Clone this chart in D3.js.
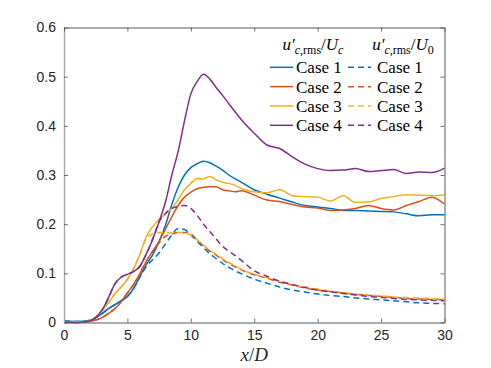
<!DOCTYPE html>
<html>
<head>
<meta charset="utf-8">
<script src="https://cdn.jsdelivr.net/npm/d3@7"></script>
<style>
  body { margin: 0; background: #fff; }
  svg { display: block; }
  .serif { font-family: "Liberation Serif", "Times New Roman", "DejaVu Serif", serif; }
</style>
</head>
<body>
<div id="chart"></div>
<script>
"use strict";

// x/D grid shared by all series
var xGrid = [0, 1, 2, 2.5, 3, 3.5, 4, 4.5, 5, 5.5, 6, 6.5, 7, 7.5, 8, 8.5, 9, 9.5, 10, 10.5,
  11, 11.5, 12, 12.5, 13, 13.5, 14, 15, 16, 17, 18, 19, 20, 21, 22, 23, 24, 25, 26, 27, 28, 29, 30];

// u'_{c,rms}/U_c (solid)
var case1Uc = [0.003, 0.002, 0.004, 0.010, 0.018, 0.028, 0.036, 0.044, 0.053, 0.070, 0.095, 0.118, 0.138, 0.165, 0.198, 0.240, 0.275, 0.300, 0.315, 0.323,
  0.328, 0.325, 0.318, 0.310, 0.300, 0.292, 0.285, 0.270, 0.261, 0.253, 0.245, 0.238, 0.235, 0.232, 0.228, 0.228, 0.227, 0.226, 0.225, 0.221, 0.217, 0.219, 0.219];
var case2Uc = [0.001, 0.001, 0.002, 0.005, 0.010, 0.018, 0.028, 0.042, 0.060, 0.078, 0.100, 0.125, 0.145, 0.165, 0.190, 0.215, 0.238, 0.255, 0.265, 0.272,
  0.275, 0.276, 0.276, 0.270, 0.268, 0.266, 0.268, 0.259, 0.249, 0.246, 0.240, 0.235, 0.233, 0.228, 0.229, 0.232, 0.238, 0.232, 0.229, 0.238, 0.246, 0.255, 0.241];
var case3Uc = [0.001, 0.001, 0.003, 0.010, 0.025, 0.040, 0.058, 0.072, 0.088, 0.110, 0.140, 0.175, 0.195, 0.210, 0.220, 0.232, 0.250, 0.270, 0.283, 0.293,
  0.292, 0.297, 0.290, 0.285, 0.283, 0.279, 0.272, 0.266, 0.264, 0.270, 0.258, 0.256, 0.255, 0.247, 0.258, 0.244, 0.245, 0.252, 0.256, 0.260, 0.259, 0.258, 0.260];
var case4Uc = [0.001, 0.000, 0.003, 0.010, 0.025, 0.050, 0.078, 0.092, 0.098, 0.104, 0.115, 0.140, 0.170, 0.205, 0.245, 0.300, 0.348, 0.410, 0.465, 0.490,
  0.505, 0.495, 0.478, 0.462, 0.445, 0.428, 0.412, 0.385, 0.361, 0.354, 0.337, 0.322, 0.313, 0.309, 0.310, 0.313, 0.307, 0.309, 0.311, 0.303, 0.306, 0.305, 0.314];

// u'_{c,rms}/U_0 (dashed)
var case1U0 = [0.003, 0.002, 0.004, 0.010, 0.018, 0.028, 0.036, 0.044, 0.053, 0.070, 0.093, 0.114, 0.128, 0.142, 0.160, 0.178, 0.191, 0.189, 0.178, 0.165,
  0.152, 0.140, 0.130, 0.120, 0.112, 0.105, 0.099, 0.088, 0.080, 0.072, 0.066, 0.062, 0.058, 0.055, 0.053, 0.050, 0.048, 0.046, 0.044, 0.042, 0.040, 0.039, 0.038];
var case2U0 = [0.001, 0.001, 0.002, 0.005, 0.010, 0.018, 0.028, 0.042, 0.060, 0.078, 0.100, 0.125, 0.145, 0.162, 0.175, 0.180, 0.183, 0.183, 0.180, 0.168,
  0.155, 0.145, 0.137, 0.128, 0.120, 0.113, 0.107, 0.097, 0.090, 0.082, 0.076, 0.070, 0.066, 0.063, 0.060, 0.057, 0.055, 0.053, 0.051, 0.049, 0.048, 0.047, 0.046];
var case3U0 = [0.001, 0.001, 0.003, 0.010, 0.025, 0.040, 0.058, 0.072, 0.088, 0.110, 0.140, 0.172, 0.180, 0.183, 0.183, 0.182, 0.183, 0.182, 0.178, 0.168,
  0.157, 0.147, 0.138, 0.130, 0.122, 0.115, 0.108, 0.098, 0.091, 0.084, 0.078, 0.072, 0.068, 0.064, 0.061, 0.058, 0.056, 0.054, 0.052, 0.051, 0.050, 0.049, 0.048];
var case4U0 = [0.001, 0.000, 0.003, 0.010, 0.025, 0.050, 0.078, 0.092, 0.098, 0.104, 0.115, 0.140, 0.170, 0.205, 0.222, 0.232, 0.236, 0.238, 0.232, 0.218,
  0.200, 0.185, 0.170, 0.155, 0.145, 0.136, 0.126, 0.105, 0.094, 0.084, 0.077, 0.071, 0.066, 0.062, 0.059, 0.056, 0.053, 0.051, 0.049, 0.047, 0.046, 0.045, 0.044];

var caseNames = ["Case 1", "Case 2", "Case 3", "Case 4"];
var caseColors = ["#0072BD", "#D95319", "#EDB120", "#7E2F8E"];
var xTicks = [0, 5, 10, 15, 20, 25, 30];
var yTicks = [0, 0.1, 0.2, 0.3, 0.4, 0.5, 0.6];

var width = 491;
var height = 368;
var margin = {top: 27.5, right: 46.5, bottom: 45.5, left: 64};

var svg = d3.select("#chart").append("svg")
  .attr("width", width)
  .attr("height", height);

var x = d3.scaleLinear().domain([0, 30]).range([margin.left, width - margin.right]);
var y = d3.scaleLinear().domain([0, 0.6]).range([height - margin.bottom, margin.top]);

var line = d3.line()
  .x(function(d) { return x(d[0]); })
  .y(function(d) { return y(d[1]); })
  .curve(d3.curveMonotoneX);

var solidSeries = [case1Uc, case2Uc, case3Uc, case4Uc];
var dashedSeries = [case1U0, case2U0, case3U0, case4U0];

var plot = svg.append("g");

solidSeries.forEach(function(vals, i) {
  plot.append("path")
    .datum(xGrid.map(function(xv, k) { return [xv, vals[k]]; }))
    .attr("fill", "none")
    .attr("stroke", caseColors[i])
    .attr("stroke-width", 1.5)
    .attr("d", line);
});

dashedSeries.forEach(function(vals, i) {
  plot.append("path")
    .datum(xGrid.map(function(xv, k) { return [xv, vals[k]]; }))
    .attr("fill", "none")
    .attr("stroke", caseColors[i])
    .attr("stroke-width", 1.5)
    .attr("stroke-dasharray", "6,4")
    .attr("d", line);
});

// axes (ticks point inward, box on)
var fmt = function(d) { return d === 0 ? "0" : d3.format(".1f")(d); };

function styleAxis(g, color, w) {
  g.select(".domain").attr("stroke", color).attr("stroke-width", w);
  g.selectAll(".tick line").attr("stroke", "#4d4d4d").attr("stroke-width", 0.8);
  g.selectAll("text")
    .attr("fill", "#262626")
    .style("font-family", "'Liberation Sans', Arial, sans-serif")
    .style("font-size", "14px");
}

svg.append("g")
  .attr("transform", "translate(0," + (height - margin.bottom) + ")")
  .call(d3.axisBottom(x).tickValues(xTicks).tickSizeInner(-4).tickSizeOuter(0).tickPadding(8).tickFormat(d3.format("d")))
  .call(styleAxis, "#5a5a5a", 1);

svg.append("g")
  .attr("transform", "translate(" + margin.left + ",0)")
  .call(d3.axisLeft(y).tickValues(yTicks).tickSizeInner(-4).tickSizeOuter(0).tickPadding(8).tickFormat(fmt))
  .call(styleAxis, "#a8a8a8", 1.4);

svg.append("g")
  .attr("transform", "translate(0," + margin.top + ")")
  .call(d3.axisTop(x).tickValues(xTicks).tickSizeInner(-4).tickSizeOuter(0).tickFormat(""))
  .call(styleAxis, "#5a5a5a", 1);

svg.append("g")
  .attr("transform", "translate(" + (width - margin.right) + ",0)")
  .call(d3.axisRight(y).tickValues(yTicks).tickSizeInner(-4).tickSizeOuter(0).tickFormat(""))
  .call(styleAxis, "#5a5a5a", 1);

// x label
var xl = svg.append("text")
  .attr("class", "serif")
  .attr("x", (x(0) + x(30)) / 2)
  .attr("y", 361)
  .attr("text-anchor", "middle")
  .attr("fill", "#262626")
  .style("font-size", "19px")
  .style("font-style", "italic");
xl.append("tspan").text("x");
xl.append("tspan").style("font-style", "normal").text("/");
xl.append("tspan").text("D");

// legend
var legend = svg.append("g")
  .attr("fill", "#000");

function header(cx, sub) {
  var t = legend.append("text")
    .attr("class", "serif")
    .attr("x", cx)
    .attr("y", 50)
    .attr("text-anchor", "middle")
    .style("font-size", "17px");
  t.append("tspan").style("font-style", "italic").text("u\u2032");
  t.append("tspan").attr("dy", 4).style("font-size", "12px").style("font-style", "italic").text("c");
  t.append("tspan").style("font-size", "12px").text(",rms");
  t.append("tspan").attr("dy", -4).text("/");
  t.append("tspan").style("font-style", "italic").text("U");
  var s = t.append("tspan").attr("dy", 4).style("font-size", "12px").text(sub);
  if (sub === "c") s.style("font-style", "italic");
}
header(313, "c");
header(403, "0");

var rowY = d3.scaleLinear().domain([0, 3]).range([67.3, 125.3]);

caseNames.forEach(function(name, i) {
  var yy = rowY(i);
  legend.append("line")
    .attr("x1", 270).attr("x2", 293)
    .attr("y1", yy).attr("y2", yy)
    .attr("stroke", caseColors[i])
    .attr("stroke-width", 1.5);
  legend.append("text")
    .attr("class", "serif")
    .attr("x", 296).attr("y", yy + 6)
    .style("font-size", "17px")
    .text(name);
  legend.append("line")
    .attr("x1", 348).attr("x2", 371)
    .attr("y1", yy).attr("y2", yy)
    .attr("stroke", caseColors[i])
    .attr("stroke-width", 1.5)
    .attr("stroke-dasharray", "6,4");
  legend.append("text")
    .attr("class", "serif")
    .attr("x", 377).attr("y", yy + 6)
    .style("font-size", "17px")
    .text(name);
});
</script>
</body>
</html>
